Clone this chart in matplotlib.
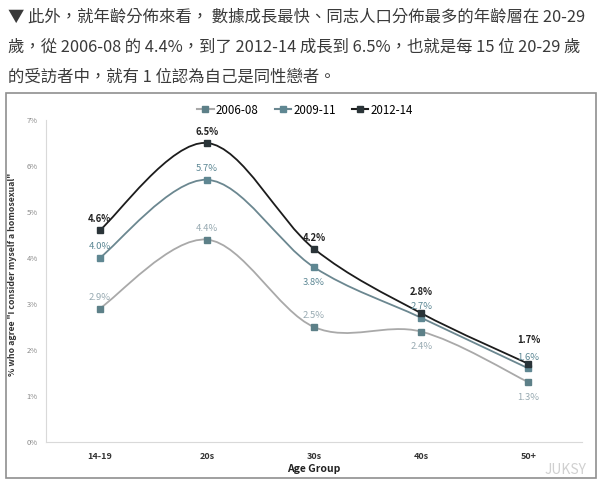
import matplotlib
matplotlib.use('Agg')
import matplotlib.pyplot as plt
from matplotlib.path import Path
from matplotlib.patches import PathPatch, Rectangle
from matplotlib.lines import Line2D

plt.rcParams['font.family'] = ['Noto Sans CJK TC', 'DejaVu Sans']

# Data
age_groups = ['14-19', '20s', '30s', '40s', '50+']
series_names = ['2006-08', '2009-11', '2012-14']
vals_0608 = [2.9, 4.4, 2.5, 2.4, 1.3]
vals_0911 = [4.0, 5.7, 3.8, 2.7, 1.6]
vals_1214 = [4.6, 6.5, 4.2, 2.8, 1.7]
y_ticks = [0, 1, 2, 3, 4, 5, 6, 7]

intro_lines = [
    '▼ 此外，就年齡分佈來看， 數據成長最快、同志人口分佈最多的年齡層在 20-29',
    '歲，從 2006-08 的 4.4%，到了 2012-14 成長到 6.5%，也就是每 15 位 20-29 歲',
    '的受訪者中，就有 1 位認為自己是同性戀者。',
]

line_colors = ['#a9a9a9', '#6b8790', '#1c1c1c']
marker_colors = ['#5d8088', '#5f8792', '#2a3438']
label_colors = ['#98aab2', '#5c8794', '#222222']
label_weights = ['normal', 'normal', 'bold']
# label offsets in points (above / below marker)
label_offsets = [
    [8, 8, 8, -11, -11],
    [8, 8, -11, 8, 8],
    [8, 8, 8, 15, 17],
]


def smooth_path(xs, ys):
    # Excel-like smoothed line: Catmull-Rom as cubic Bezier segments
    pts = list(zip(xs, ys))
    verts = [pts[0]]
    codes = [Path.MOVETO]
    n = len(pts)
    for i in range(n - 1):
        p0 = pts[i - 1] if i > 0 else pts[i]
        p1 = pts[i]
        p2 = pts[i + 1]
        p3 = pts[i + 2] if i + 2 < n else pts[i + 1]
        c1 = (p1[0] + (p2[0] - p0[0]) / 6, p1[1] + (p2[1] - p0[1]) / 6)
        c2 = (p2[0] - (p3[0] - p1[0]) / 6, p2[1] - (p3[1] - p1[1]) / 6)
        verts += [c1, c2, p2]
        codes += [Path.CURVE4] * 3
    return Path(verts, codes)


fig = plt.figure(figsize=(6, 4.83), dpi=100)

# intro text
for k, line in enumerate(intro_lines):
    fig.text(8 / 600, 1 - (17 + 30 * k) / 483, line, fontsize=11.8,
             color='#3a3a3a', va='center', ha='left')

# chart frame
fig.patches.append(Rectangle((6 / 600, 1 - 478 / 483), 590 / 600, 385 / 483,
                             transform=fig.transFigure, fill=False,
                             edgecolor='#8f8f8f', linewidth=1.2))

ax = fig.add_axes([46 / 600, 1 - 442 / 483, 536 / 600, 322 / 483])
x = list(range(len(age_groups)))

all_vals = [vals_0608, vals_0911, vals_1214]
for s, vals in enumerate(all_vals):
    ax.add_patch(PathPatch(smooth_path(x, vals), facecolor='none',
                           edgecolor=line_colors[s], linewidth=1.3, zorder=2))
    ax.plot(x, vals, linestyle='none', marker='s', markersize=4.2,
            markerfacecolor=marker_colors[s], markeredgecolor=marker_colors[s],
            zorder=3)
    for i, v in enumerate(vals):
        off = label_offsets[s][i]
        ax.annotate('%.1f%%' % v, (i, v), xytext=(0, off), textcoords='offset points',
                    ha='center', va='center', fontsize=6.8,
                    color=label_colors[s], fontweight=label_weights[s])

ax.set_xlim(-0.5, 4.5)
ax.set_ylim(0, 7)
ax.set_xticks(x)
ax.set_xticklabels(age_groups, fontsize=6.5, fontweight='bold', color='#333333')
ax.set_yticks(y_ticks)
ax.set_yticklabels(['%d%%' % t for t in y_ticks], fontsize=5.5, color='#8a8a8a')
ax.tick_params(axis='x', length=0, pad=7)
ax.tick_params(axis='y', length=0, pad=6)
for side in ['top', 'right']:
    ax.spines[side].set_visible(False)
ax.spines['left'].set_color('#d9d9d9')
ax.spines['bottom'].set_color('#d9d9d9')
ax.set_xlabel('Age Group', fontsize=7.5, fontweight='bold', color='#222222', labelpad=2)
ax.set_ylabel('% who agree "I consider myself a homosexual"', fontsize=6.3,
              fontweight='bold', color='#333333')
ax.yaxis.set_label_coords(-0.054, 0.52)

handles = [Line2D([0], [0], color=line_colors[s], marker='s', markersize=4,
                  markerfacecolor=marker_colors[s], markeredgecolor=marker_colors[s],
                  linewidth=1.5) for s in range(3)]
fig.legend(handles, series_names, loc='center', bbox_to_anchor=(305 / 600, 1 - 110 / 483),
           ncol=3, frameon=False, fontsize=8.3, handlelength=1.4, handletextpad=0.2,
           columnspacing=1.4)

# watermark
fig.text(566 / 600, 1 - 470 / 483, 'JUKSY', fontsize=10, color='#d0d0d0',
         ha='center', va='center')

fig.savefig('out.png', dpi=100)
